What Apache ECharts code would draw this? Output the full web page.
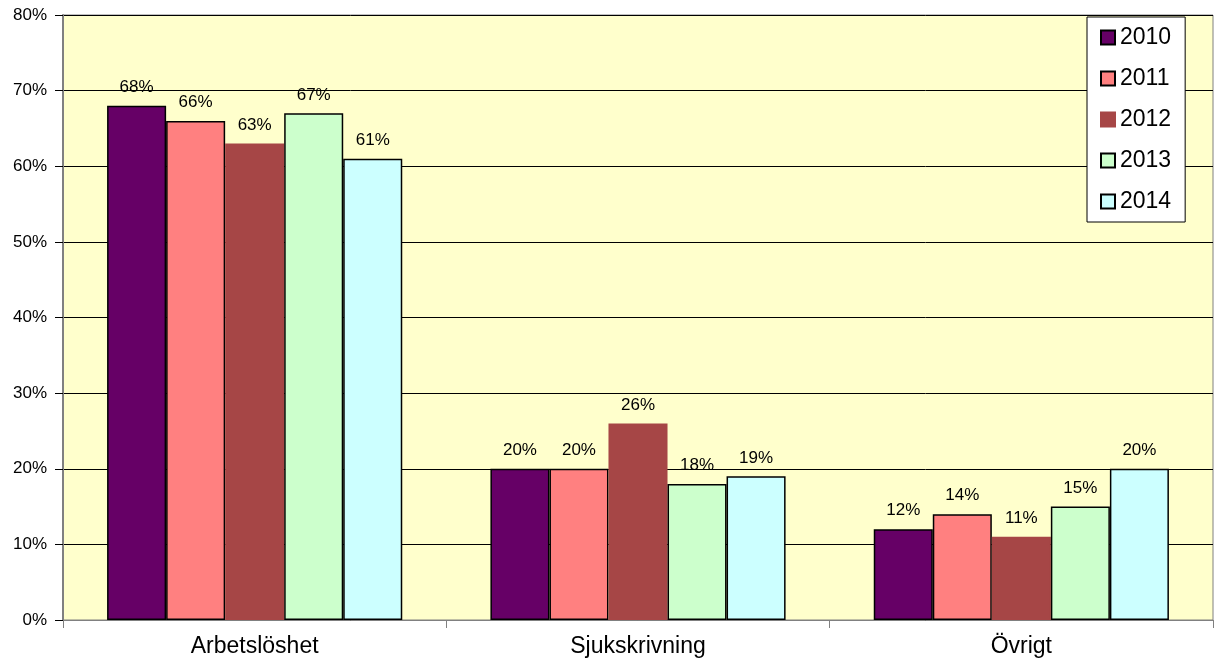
<!DOCTYPE html>
<html>
<head>
<meta charset="utf-8">
<script src="https://cdn.jsdelivr.net/npm/echarts@6/dist/echarts.min.js"></script>
<style>
  html, body { margin: 0; padding: 0; background: #fff; }
  #chart { width: 1215px; height: 665px; }
</style>
</head>
<body>
<div id="chart"></div>
<script>
// kategorier och värden (procent)
var categories = ['Arbetslöshet', 'Sjukskrivning', 'Övrigt'];
var years = ['2010', '2011', '2012', '2013', '2014'];
var v2010 = [68, 20, 12];
var v2011 = [66, 20, 14];
var v2012 = [63, 26, 11];
var v2013 = [67, 18, 15];
var v2014 = [61, 19, 20];
var colors = ['#660066', '#FF8080', '#A64646', '#CCFFCC', '#CCFFFF'];
var borders = ['#000', '#000', '#A64646', '#000', '#000'];

var values = [v2010, v2011, v2012, v2013, v2014];
var series = [];
for (var i = 0; i < years.length; i++) {
  series.push({
    name: years[i],
    type: 'bar',
    data: values[i],
    barGap: '0%',
    barCategoryGap: '23%',
    itemStyle: { color: colors[i], borderColor: borders[i], borderWidth: 1.5 },
    label: {
      show: true,
      position: 'top',
      distance: 10,
      formatter: '{c}%',
      fontFamily: 'Liberation Sans, Arial',
      fontSize: 17,
      color: '#000'
    }
  });
}

var myChart = echarts.init(document.getElementById('chart'));
var option = {
  animation: false,
  grid: {
    left: 63, right: 2, top: 15, bottom: 45,
    show: true,
    backgroundColor: '#FFFFCC',
    borderColor: '#808080',
    borderWidth: 1
  },
  legend: {
    data: years,
    orient: 'vertical',
    left: 1087,
    top: 17,
    backgroundColor: '#fff',
    borderColor: '#000',
    borderWidth: 1,
    padding: [9, 14, 9, 13],
    itemWidth: 14,
    itemHeight: 14,
    itemGap: 18,
    icon: 'rect',
    textStyle: { fontFamily: 'Liberation Sans, Arial', fontSize: 23, color: '#000' }
  },
  xAxis: {
    type: 'category',
    data: categories,
    axisLine: { lineStyle: { color: '#808080', width: 1 } },
    axisTick: { show: true, length: 8, lineStyle: { color: '#808080' } },
    axisLabel: { fontFamily: 'Liberation Sans, Arial', fontSize: 23, color: '#000', margin: 15 }
  },
  yAxis: {
    type: 'value',
    min: 0, max: 80, interval: 10,
    axisLine: { show: true, lineStyle: { color: '#808080', width: 2 } },
    axisTick: { show: true, length: 8, lineStyle: { color: '#000' } },
    splitLine: { lineStyle: { color: '#000', width: 1 } },
    axisLabel: { formatter: '{value}%', fontFamily: 'Liberation Sans, Arial', fontSize: 17, color: '#000', margin: 16 }
  },
  series: series
};
myChart.setOption(option);
</script>
</body>
</html>
